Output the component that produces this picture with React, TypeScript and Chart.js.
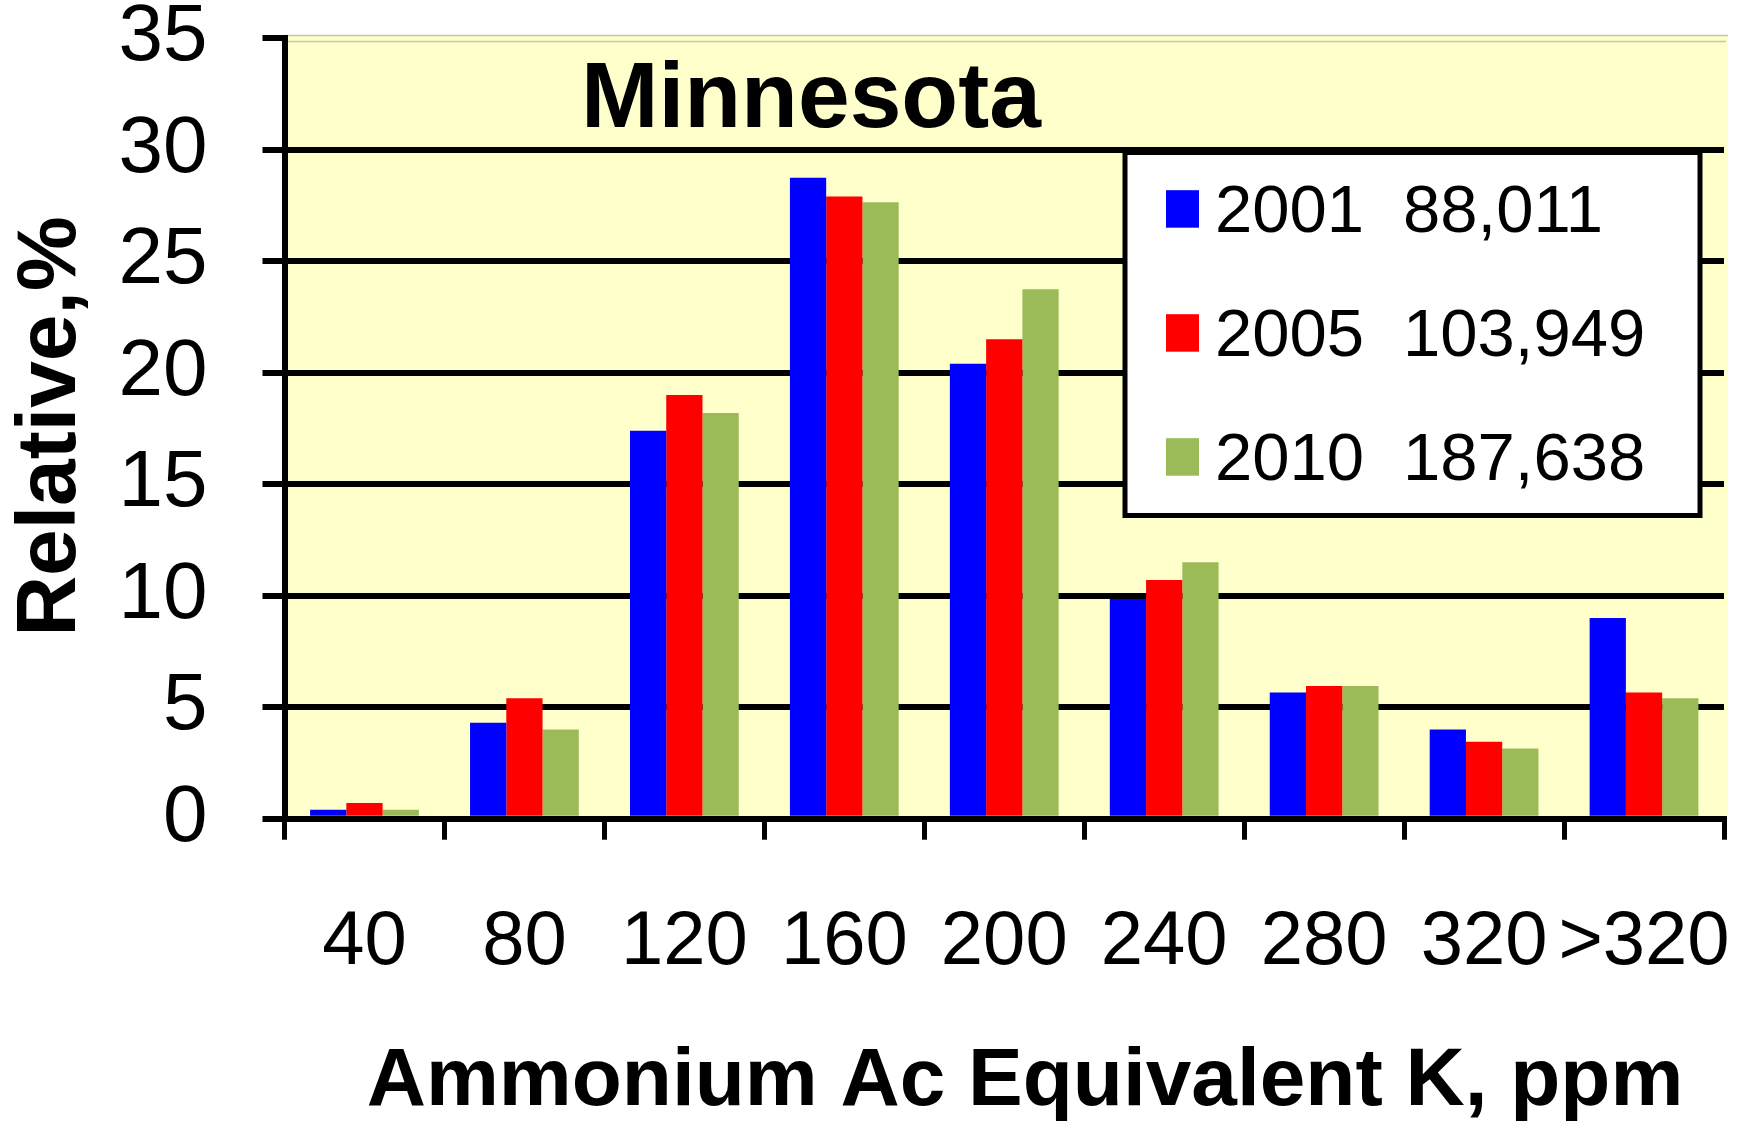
import React, { useEffect, useRef } from "react";
import { Chart, registerables } from "chart.js";

Chart.register(...registerables);

const categories = ["40", "80", "120", "160", "200", "240", "280", "320", ">320"];
const series2001 = [0.4, 4.3, 17.4, 28.75, 20.4, 9.85, 5.66, 4.0, 9.0];
const series2005 = [0.7, 5.4, 19.0, 27.9, 21.5, 10.7, 5.95, 3.45, 5.66];
const series2010 = [0.4, 4.0, 18.2, 27.65, 23.75, 11.5, 5.95, 3.15, 5.4];
const seriesYears = ["2001", "2005", "2010"];
const seriesCounts = ["88,011", "103,949", "187,638"];
const seriesColors = ["#0000FF", "#FF0000", "#9BBB59"];
const yMin = 0;
const yMax = 35;
const yStep = 5;
const chartTitle = "Minnesota";
const xTitle = "Ammonium Ac Equivalent K, ppm";
const yTitle = "Relative,%";

const FONT = "'Liberation Sans', Arial, Helvetica, sans-serif";
const W = 1739;
const H = 1121;

const decorPlugin = {
  id: "decor",
  beforeDraw(chart: any) {
    const { ctx, chartArea } = chart;
    ctx.save();
    ctx.fillStyle = "#FFFFCC";
    ctx.fillRect(chartArea.left, 35, 1728 - chartArea.left, chartArea.bottom - 35);
    ctx.strokeStyle = "#C8C8A0";
    ctx.lineWidth = 1.5;
    ctx.beginPath();
    ctx.moveTo(chartArea.left, 35.5);
    ctx.lineTo(1728, 35.5);
    ctx.moveTo(chartArea.left, 41.5);
    ctx.lineTo(1726, 41.5);
    ctx.stroke();
    ctx.restore();
  },
  afterDraw(chart: any) {
    const { ctx } = chart;
    ctx.save();
    // chart title
    ctx.fillStyle = "#000";
    ctx.font = `bold 93px ${FONT}`;
    ctx.textAlign = "left";
    ctx.textBaseline = "alphabetic";
    ctx.fillText(chartTitle, 581, 127);

    // x axis title
    ctx.font = `bold 82px ${FONT}`;
    ctx.textAlign = "center";
    ctx.fillText(xTitle, 1025, 1105);

    // y axis title
    ctx.save();
    ctx.translate(75, 426.5);
    ctx.rotate(-Math.PI / 2);
    ctx.font = `bold 84px ${FONT}`;
    ctx.textAlign = "center";
    ctx.fillText(yTitle, 0, 0);
    ctx.restore();

    // legend
    const bx = 1125, by = 152.5, bw = 575, bh = 363;
    ctx.fillStyle = "#FFFFFF";
    ctx.fillRect(bx, by, bw, bh);
    ctx.strokeStyle = "#000";
    ctx.lineWidth = 5;
    ctx.strokeRect(bx, by, bw, bh);
    ctx.font = `67px ${FONT}`;
    ctx.textAlign = "left";
    ctx.textBaseline = "alphabetic";
    const rowBase = [231.7, 355.7, 479.7];
    chart.data.datasets.forEach((ds: any, i: number) => {
      const base = rowBase[i];
      ctx.fillStyle = ds.backgroundColor;
      ctx.fillRect(1166, base - 41.5, 33, 37.5);
      ctx.fillStyle = "#000";
      ctx.fillText(seriesYears[i], 1215, base);
      ctx.fillText(seriesCounts[i], 1403, base);
    });
    ctx.restore();
  },
};

export default function App() {
  const ref = useRef<HTMLCanvasElement | null>(null);
  useEffect(() => {
    if (!ref.current) return;
    const chart = new Chart(ref.current, {
      type: "bar",
      data: {
        labels: categories,
        datasets: [
          { label: seriesYears[0], data: series2001, backgroundColor: seriesColors[0] },
          { label: seriesYears[1], data: series2005, backgroundColor: seriesColors[1] },
          { label: seriesYears[2], data: series2010, backgroundColor: seriesColors[2] },
        ],
      },
      options: {
        responsive: false,
        animation: false,
        devicePixelRatio: 1,
        layout: { padding: { top: 38.3, right: 15, left: 0, bottom: 0 } },
        datasets: { bar: { categoryPercentage: 0.68, barPercentage: 1.0 } },
        plugins: { legend: { display: false }, tooltip: { enabled: false }, title: { display: false } },
        scales: {
          x: {
            offset: true,
            grid: {
              offset: true,
              drawOnChartArea: false,
              drawTicks: true,
              tickLength: 21,
              tickWidth: 5,
              tickColor: "#000",
              color: "#000",
              lineWidth: 5,
            },
            border: { display: true, color: "#000", width: 6 },
            ticks: {
              color: "#000",
              font: { family: FONT, size: 76, lineHeight: 1 },
              padding: 65,
              maxRotation: 0,
              autoSkip: false,
            },
            afterFit: (s: any) => {
              s.height = H - 818.7;
              s.paddingLeft = 0;
              s.paddingRight = 0;
              s.paddingTop = 0;
              s.paddingBottom = 0;
            },
          },
          y: {
            min: yMin,
            max: yMax,
            grid: {
              color: (c: any) => (c.tick && c.tick.value === yMax ? "rgba(0,0,0,0)" : "#000"),
              lineWidth: 6,
              drawTicks: true,
              tickLength: 22,
              tickWidth: 6,
              tickColor: "#000",
            },
            border: { display: true, color: "#000", width: 6 },
            ticks: {
              stepSize: yStep,
              color: "#000",
              font: { family: FONT, size: 80, lineHeight: 0.9 },
              padding: 55,
            },
            afterFit: (s: any) => {
              s.width = 284.5;
              s.paddingLeft = 0;
              s.paddingRight = 0;
              s.paddingTop = 0;
              s.paddingBottom = 0;
            },
          },
        },
      },
      plugins: [decorPlugin],
    });
    return () => chart.destroy();
  }, []);
  return (
    <div style={{ position: "fixed", left: 0, top: 0, width: W, height: H, background: "#fff" }}>
      <canvas ref={ref} width={W} height={H} style={{ width: W, height: H, display: "block" }} />
    </div>
  );
}
